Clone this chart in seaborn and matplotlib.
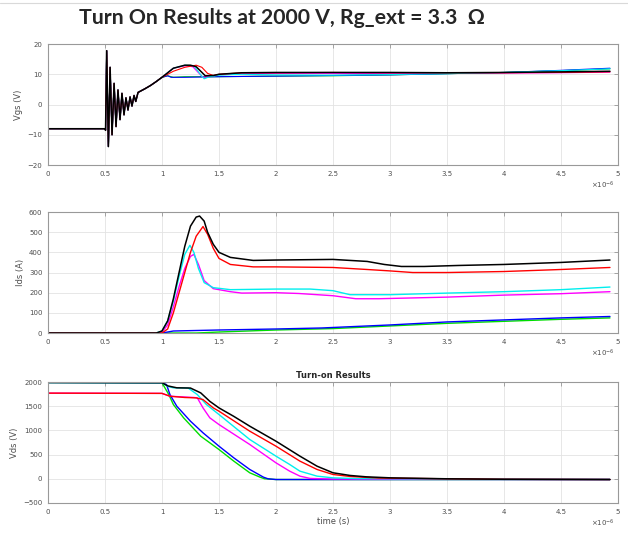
# %%
import numpy as np
import pandas as pd
import seaborn as sns
import matplotlib.pyplot as plt
from matplotlib.lines import Line2D
from matplotlib.ticker import FormatStrFormatter

# %% data (time in microseconds)
trace_order = ['green', 'blue', 'magenta', 'cyan', 'red', 'black']
trace_colors = {'green': '#00dd00', 'blue': '#0000ff', 'magenta': '#ff00ff',
                'cyan': '#00eeee', 'red': '#ff0000', 'black': '#000000'}

# Vgs: common gate ringing at turn-on, then per-trace tails
vgs_ring_t = [0, 0.5, 0.505, 0.515, 0.53, 0.545, 0.562, 0.58, 0.597, 0.614, 0.632,
              0.649, 0.667, 0.684, 0.702, 0.72, 0.737, 0.755, 0.77, 0.79, 0.85, 0.9, 0.95, 1.0]
vgs_ring_v = [-8, -8, -8.5, 17.8, -13.9, 12.3, -10, 7, -7.3, 4.8, -5,
              3.7, -3.4, 2.2, -1.8, 2.5, -0.5, 3, 1, 4, 5.2, 6.3, 7.6, 9]

vgs_black_t = [1.05, 1.1, 1.15, 1.2, 1.25, 1.3, 1.34, 1.38, 1.45, 1.5, 1.7, 2.0, 2.5, 3.0, 3.5, 4.0, 4.5, 4.93]
vgs_black_v = [10.5, 12, 12.5, 13, 13, 12.5, 11, 9.5, 9.6, 10, 10.5, 10.6, 10.6, 10.6, 10.5, 10.6, 10.8, 11]
vgs_red_t = [1.05, 1.1, 1.2, 1.3, 1.35, 1.4, 1.45, 1.5, 1.7, 2.0, 2.5, 3.0, 3.5, 4.0, 4.5, 4.93]
vgs_red_v = [10, 11, 12.3, 13, 12.3, 10.3, 9.6, 10, 10.5, 10.5, 10.6, 10.5, 10.5, 10.5, 10.6, 10.8]
vgs_magenta_t = [1.05, 1.1, 1.2, 1.27, 1.32, 1.36, 1.42, 1.5, 1.7, 2.0, 2.5, 3.0, 3.5, 4.0, 4.5, 4.93]
vgs_magenta_v = [10.5, 12, 12.8, 12.5, 10.5, 9, 9.3, 9.8, 10.2, 10.3, 10.3, 10.2, 10.3, 10.4, 10.5, 10.7]
vgs_cyan_t = [1.05, 1.1, 1.2, 1.28, 1.33, 1.37, 1.42, 1.5, 1.7, 2.0, 2.5, 3.0, 3.5, 4.0, 4.5, 4.93]
vgs_cyan_v = [10.5, 12, 13, 12.8, 10.3, 8.5, 9.2, 9.7, 10, 9.8, 9.7, 9.9, 10.2, 10.6, 11.2, 11.8]
vgs_blue_t = [1.05, 1.08, 1.2, 1.5, 2.0, 2.5, 3.0, 3.5, 4.0, 4.5, 4.93]
vgs_blue_v = [9.5, 9, 9, 9.2, 9.4, 9.6, 9.8, 10.2, 10.6, 11.3, 12]
vgs_green_t = [1.05, 1.1, 1.2, 1.5, 2.0, 2.5, 3.0, 3.5, 4.0, 4.5, 4.93]
vgs_green_v = [9.5, 9, 9.2, 9.2, 9.4, 9.5, 9.8, 10.2, 10.6, 11.2, 11.8]

# Ids
ids_black_t = [0, 0.95, 1.0, 1.05, 1.1, 1.15, 1.2, 1.25, 1.3, 1.33, 1.37, 1.4, 1.45, 1.5, 1.6, 1.8,
               2.0, 2.5, 2.8, 2.95, 3.1, 3.3, 3.6, 4.0, 4.5, 4.93]
ids_black_v = [0, 0, 10, 60, 170, 300, 430, 530, 575, 580, 555, 500, 440, 400, 375, 360,
               362, 365, 355, 340, 330, 330, 335, 340, 350, 362]
ids_red_t = [0, 1.0, 1.05, 1.1, 1.15, 1.2, 1.25, 1.3, 1.36, 1.4, 1.45, 1.5, 1.6, 1.8, 2.0,
             2.5, 2.8, 3.0, 3.2, 3.5, 4.0, 4.5, 4.93]
ids_red_v = [0, 0, 20, 100, 200, 300, 400, 480, 528, 490, 420, 370, 340, 328, 328,
             325, 315, 308, 300, 300, 305, 315, 325]
ids_cyan_t = [0, 0.95, 1.0, 1.05, 1.1, 1.15, 1.2, 1.245, 1.28, 1.32, 1.37, 1.45, 1.6, 2.0,
              2.3, 2.5, 2.65, 3.0, 3.5, 4.0, 4.5, 4.93]
ids_cyan_v = [0, 0, 10, 60, 160, 280, 390, 435, 400, 320, 250, 225, 215, 218,
              218, 210, 190, 190, 198, 205, 215, 228]
ids_magenta_t = [0, 0.97, 1.0, 1.05, 1.1, 1.15, 1.2, 1.25, 1.28, 1.32, 1.37, 1.45, 1.6, 1.7,
                 2.0, 2.2, 2.5, 2.7, 2.9, 3.5, 4.0, 4.5, 4.93]
ids_magenta_v = [0, 0, 5, 40, 130, 230, 320, 380, 390, 340, 260, 220, 205, 198,
                 200, 196, 185, 170, 170, 178, 188, 195, 205]
ids_blue_t = [0, 1.0, 1.1, 1.5, 2.0, 2.4, 3.0, 3.5, 4.0, 4.5, 4.93]
ids_blue_v = [0, 0, 10, 15, 20, 25, 40, 55, 65, 75, 82]
ids_green_t = [0, 1.3, 1.5, 2.0, 2.5, 3.0, 3.5, 4.0, 4.5, 4.93]
ids_green_v = [0, 0, 5, 15, 22, 35, 48, 58, 68, 75]

# Vds
vds_black_t = [0, 1.0, 1.05, 1.13, 1.25, 1.34, 1.42, 1.5, 1.63, 1.77, 2.0, 2.21, 2.36, 2.5,
               2.65, 2.79, 3.0, 3.5, 4.0, 4.93]
vds_black_v = [1990, 1985, 1920, 1880, 1875, 1775, 1600, 1465, 1290, 1087, 777, 468, 261, 124,
               69, 41, 20, 0, -10, -15]
vds_red_t = [0, 1.0, 1.07, 1.2, 1.3, 1.36, 1.45, 1.5, 1.77, 2.0, 2.21, 2.36, 2.5, 2.65, 2.9,
             3.5, 4.0, 4.93]
vds_red_v = [1770, 1765, 1706, 1680, 1672, 1637, 1465, 1397, 984, 674, 365, 193, 89, 48, 15,
             0, -10, -15]
vds_cyan_t = [0, 1.0, 1.05, 1.1, 1.23, 1.31, 1.39, 1.5, 1.77, 2.0, 2.12, 2.21, 2.36, 2.5, 2.7,
              3.5, 4.93]
vds_cyan_v = [1990, 1985, 1910, 1880, 1875, 1740, 1534, 1328, 812, 468, 296, 158, 55, 20, 5,
              -5, -15]
vds_magenta_t = [0, 1.0, 1.07, 1.28, 1.31, 1.36, 1.42, 1.5, 1.77, 2.0, 2.12, 2.21, 2.3, 2.5,
                 3.5, 4.93]
vds_magenta_v = [1770, 1765, 1706, 1680, 1672, 1465, 1259, 1121, 709, 330, 158, 55, 7, -5,
                 -10, -15]
vds_blue_t = [0, 1.0, 1.04, 1.07, 1.13, 1.25, 1.36, 1.5, 1.63, 1.77, 1.89, 1.93, 2.0, 3.0, 4.93]
vds_blue_v = [1990, 1985, 1947, 1740, 1500, 1190, 950, 674, 433, 193, 34, 0, -15, -15, -15]
vds_green_t = [0, 1.0, 1.06, 1.1, 1.19, 1.34, 1.5, 1.63, 1.77, 1.86, 1.9, 2.0, 3.0, 4.93]
vds_green_v = [1990, 1985, 1740, 1534, 1259, 880, 605, 365, 124, 34, 0, -15, -15, -15]


vgs_series = {
    'black': (vgs_ring_t + vgs_black_t, vgs_ring_v + vgs_black_v),
    'red': (vgs_ring_t + vgs_red_t, vgs_ring_v + vgs_red_v),
    'magenta': (vgs_ring_t + vgs_magenta_t, vgs_ring_v + vgs_magenta_v),
    'cyan': (vgs_ring_t + vgs_cyan_t, vgs_ring_v + vgs_cyan_v),
    'blue': (vgs_ring_t + vgs_blue_t, vgs_ring_v + vgs_blue_v),
    'green': (vgs_ring_t + vgs_green_t, vgs_ring_v + vgs_green_v),
}
ids_series = {
    'black': (ids_black_t, ids_black_v), 'red': (ids_red_t, ids_red_v),
    'magenta': (ids_magenta_t, ids_magenta_v), 'cyan': (ids_cyan_t, ids_cyan_v),
    'blue': (ids_blue_t, ids_blue_v), 'green': (ids_green_t, ids_green_v),
}
vds_series = {
    'black': (vds_black_t, vds_black_v), 'red': (vds_red_t, vds_red_v),
    'magenta': (vds_magenta_t, vds_magenta_v), 'cyan': (vds_cyan_t, vds_cyan_v),
    'blue': (vds_blue_t, vds_blue_v), 'green': (vds_green_t, vds_green_v),
}

# %% plot
sns.set_style('white')
plt.rcParams['font.family'] = ['DejaVu Sans']

fig = plt.figure(figsize=(6.28, 5.33), dpi=100)
fig.add_artist(Line2D([0, 1], [0.995, 0.995], color='#d9d9d9', lw=0.8))
fig.text(0.449, 0.966, 'Turn On Results at 2000 V, Rg_ext = 3.3  Ω', ha='center', va='center',
         fontsize=15.3, fontweight='bold', family=['Lato', 'DejaVu Sans'])

panels = [
    (vgs_series, 'Vgs (V)', (-20, 20), np.arange(-20, 21, 10), 0.6904, 0.8),
    (ids_series, 'Ids (A)', (0, 600), np.arange(0, 601, 100), 0.3752, 1.0),
    (vds_series, 'Vds (V)', (-500, 2000), np.arange(-500, 2001, 500), 0.0563, 1.0),
]

grey = '#4d4d4d'
axes = []
for series, ylab, ylim, yticks, bottom, lw in panels:
    ax = fig.add_axes([0.0764, bottom, 0.9076, 0.227])
    for name in trace_order:
        t, v = series[name]
        sns.lineplot(x=t, y=v, color=trace_colors[name], estimator=None, sort=False,
                     linewidth=1.1 if name == 'black' else lw, ax=ax)
    ax.set_xlim(0, 5)
    ax.set_ylim(*ylim)
    ax.set_xticks(np.arange(0, 5.01, 0.5))
    ax.set_yticks(yticks)
    ax.xaxis.set_major_formatter(FormatStrFormatter('%g'))
    ax.tick_params(direction='in', length=3, width=0.5, top=True, right=True,
                   labelsize=5, labelcolor=grey, color='#888888', pad=4)
    ax.grid(True, color='#e3e3e3', lw=0.6)
    ax.set_axisbelow(True)
    for s in ax.spines.values():
        s.set_color('#999999')
        s.set_linewidth(0.8)
    ax.set_ylabel(ylab, fontsize=6, color=grey, labelpad=3)
    ax.set_xlabel('')
    ax.text(0.995, -0.17, r'$\times10^{-6}$', transform=ax.transAxes, ha='right', va='center',
            fontsize=5, color=grey)
    axes.append(ax)

axes[2].set_title('Turn-on Results', fontsize=6, fontweight='bold', pad=3)
axes[2].set_xlabel('time (s)', fontsize=6, color=grey, labelpad=2)

fig.savefig('out.png', dpi=100)
